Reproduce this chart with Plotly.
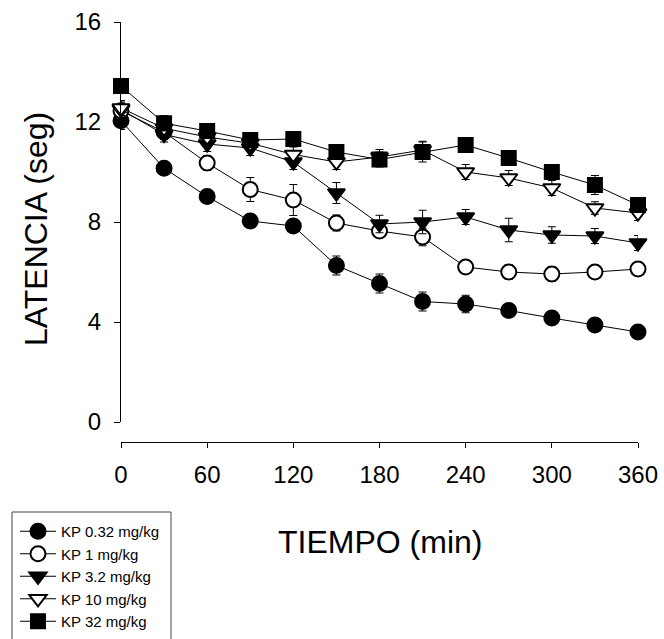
import plotly.graph_objects as go

# Time points (min)
tiempo = [0, 30, 60, 90, 120, 150, 180, 210, 240, 270, 300, 330, 360]

# Mean latency (s) per dose
kp_032 = [12.05, 10.15, 9.02, 8.04, 7.84, 6.26, 5.54, 4.82, 4.72, 4.46, 4.16, 3.88, 3.60]
kp_1 = [12.45, 11.60, 10.36, 9.30, 8.88, 7.96, 7.64, 7.40, 6.20, 6.00, 5.92, 6.00, 6.12]
kp_3_2 = [12.50, 11.50, 11.12, 10.96, 10.40, 9.16, 7.92, 8.00, 8.20, 7.68, 7.48, 7.44, 7.16]
kp_10 = [12.56, 11.75, 11.40, 11.15, 10.70, 10.40, 10.60, 10.88, 10.00, 9.76, 9.36, 8.56, 8.36]
kp_32 = [13.44, 11.95, 11.64, 11.28, 11.32, 10.80, 10.50, 10.80, 11.08, 10.56, 10.00, 9.48, 8.68]

# Standard errors
err_032 = [0.35, 0.25, 0.25, 0.20, 0.20, 0.38, 0.38, 0.38, 0.35, 0.20, 0.20, 0.20, 0.20]
err_1 = [0.30, 0.30, 0.30, 0.48, 0.62, 0.32, 0.25, 0.35, 0.25, 0.30, 0.30, 0.20, 0.20]
err_3_2 = [0.30, 0.30, 0.30, 0.30, 0.30, 0.42, 0.35, 0.47, 0.30, 0.47, 0.33, 0.30, 0.30]
err_10 = [0.30, 0.30, 0.30, 0.30, 0.30, 0.30, 0.30, 0.35, 0.30, 0.30, 0.30, 0.25, 0.30]
err_32 = [0.30, 0.30, 0.30, 0.30, 0.30, 0.30, 0.30, 0.40, 0.30, 0.30, 0.30, 0.38, 0.30]

series = [
    ("KP 0.32 mg/kg", kp_032, err_032, "circle", "black"),
    ("KP 1 mg/kg", kp_1, err_1, "circle", "white"),
    ("KP 3.2 mg/kg", kp_3_2, err_3_2, "triangle-down", "black"),
    ("KP 10 mg/kg", kp_10, err_10, "triangle-down", "white"),
    ("KP 32 mg/kg", kp_32, err_32, "square", "black"),
]

FONT = "Liberation Sans, Arial, sans-serif"

fig = go.Figure()
for name, y, e, sym, fill in series:
    fig.add_trace(go.Scatter(
        x=tiempo, y=y, name=name, mode="lines+markers",
        line=dict(color="black", width=1),
        marker=dict(symbol=sym, size=15 if sym != "square" else 14,
                    color=fill, line=dict(color="black", width=2)),
        error_y=dict(type="data", array=e, color="black", thickness=1, width=4),
        cliponaxis=False,
    ))

W, H = 664, 639
# plot area: x 121..638 px, paper y 22..442 px (x axis line sits at the bottom)
L, R, T, B = 121, 638, 22, 442


def py(px):
    return (B - px) / (B - T)


def px_(x):
    return (x - L) / (R - L)


fig.update_layout(
    width=W, height=H,
    margin=dict(l=L, r=W - R, t=T, b=H - B, autoexpand=False),
    paper_bgcolor="white", plot_bgcolor="white",
    font=dict(family=FONT, color="black"),
    showlegend=True,
    legend=dict(
        xref="container", yref="container",
        x=15 / W, y=1 - 515 / H, xanchor="left", yanchor="top",
        borderwidth=0, bgcolor="rgba(0,0,0,0)",
        font=dict(size=15, family=FONT),
        itemwidth=36, tracegroupgap=0,
    ),
    xaxis=dict(
        range=[0, 360], tickvals=[0, 60, 120, 180, 240, 300, 360],
        showgrid=False, zeroline=False, showline=True, linecolor="black", linewidth=1,
        ticks="outside", ticklen=5, tickwidth=1, tickcolor="black",
        tickfont=dict(size=24, family=FONT), anchor="free", position=0,
        ticklabelstandoff=6,
    ),
    yaxis=dict(
        range=[0, 16], tickvals=[0, 4, 8, 12, 16], domain=[py(422), 1],
        showgrid=False, zeroline=False, showline=True, linecolor="black", linewidth=1,
        ticks="outside", ticklen=6, tickwidth=1, tickcolor="black",
        tickfont=dict(size=24, family=FONT), ticklabelstandoff=8,
    ),
    # legend frame, running past the bottom edge of the page
    shapes=[
        dict(type="rect", xref="paper", yref="paper",
             x0=px_(12), x1=px_(171), y0=py(650), y1=py(512),
             line=dict(color="#444", width=1), fillcolor="rgba(0,0,0,0)",
             layer="below"),
    ],
    annotations=[
        dict(text="LATENCIA (seg)", xref="paper", yref="paper",
             x=px_(36), y=py(229), textangle=-90,
             showarrow=False, font=dict(size=32, family=FONT),
             xanchor="center", yanchor="middle"),
        dict(text="TIEMPO (min)", xref="paper", yref="paper",
             x=px_(380), y=py(542),
             showarrow=False, font=dict(size=32, family=FONT),
             xanchor="center", yanchor="middle"),
    ],
)

fig.write_html("out.html")
